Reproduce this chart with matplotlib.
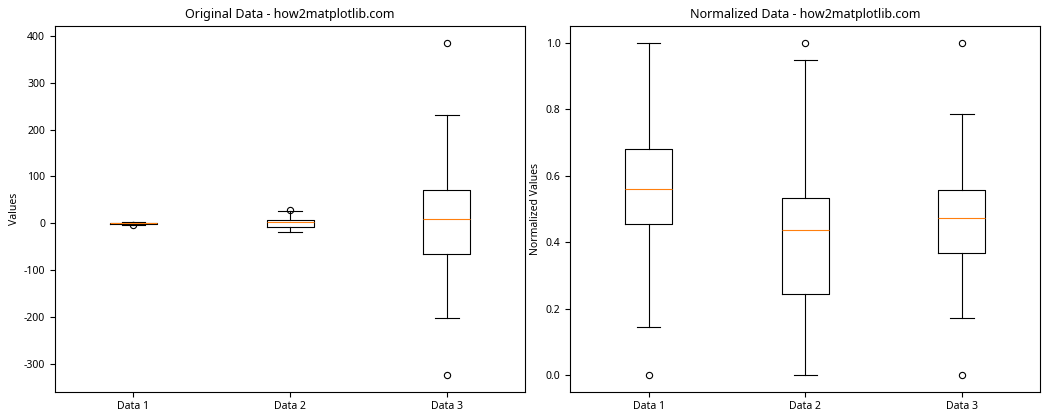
import matplotlib.pyplot as plt

plt.rcParams['font.family'] = ['Noto Sans', 'DejaVu Sans']
plt.rcParams['axes.unicode_minus'] = False
plt.rcParams['axes.linewidth'] = 0.8
for part in ('boxprops', 'whiskerprops', 'capprops', 'medianprops'):
    plt.rcParams['boxplot.%s.linewidth' % part] = 0.8
plt.rcParams['boxplot.flierprops.markersize'] = 4.5
plt.rcParams['boxplot.flierprops.markeredgewidth'] = 0.8

labels = ['Data 1', 'Data 2', 'Data 3']

# box statistics
orig_whislo = [-2.5, -18.0, -201.0]
orig_q1 = [-0.7, -6.8, -64.5]
orig_med = [-0.05, 2.1, 10.0]
orig_q3 = [0.65, 6.5, 71.5]
orig_whishi = [2.6, 25.5, 231.5]
orig_fliers = [[-3.4], [28.0], [385.0, -323.0]]

norm_whislo = [0.145, 0.0, 0.172]
norm_q1 = [0.455, 0.244, 0.366]
norm_med = [0.56, 0.437, 0.471]
norm_q3 = [0.68, 0.533, 0.558]
norm_whishi = [1.0, 0.947, 0.784]
norm_fliers = [[0.0], [1.0], [1.0, 0.0]]


def make_stats(whislo, q1, med, q3, whishi, fliers):
    stats = []
    for i in range(len(labels)):
        stats.append({'label': labels[i], 'whislo': whislo[i], 'q1': q1[i],
                      'med': med[i], 'q3': q3[i], 'whishi': whishi[i],
                      'fliers': fliers[i]})
    return stats


fig, (ax1, ax2) = plt.subplots(1, 2, figsize=(10.5, 4.2), dpi=100)
fig.subplots_adjust(left=0.0524, right=0.9908, top=0.938, bottom=0.0675, wspace=0.096)

ax1.bxp(make_stats(orig_whislo, orig_q1, orig_med, orig_q3, orig_whishi, orig_fliers))
ax1.set_title('Original Data - how2matplotlib.com', fontsize=9)
ax1.set_ylabel('Values', fontsize=7.5, labelpad=3)

ax2.bxp(make_stats(norm_whislo, norm_q1, norm_med, norm_q3, norm_whishi, norm_fliers))
ax2.set_title('Normalized Data - how2matplotlib.com', fontsize=9)
ax2.set_ylabel('Normalized Values', fontsize=7.5, labelpad=3)

for ax in (ax1, ax2):
    ax.tick_params(labelsize=7.5, width=0.8)

plt.savefig('out.png', dpi=100)
